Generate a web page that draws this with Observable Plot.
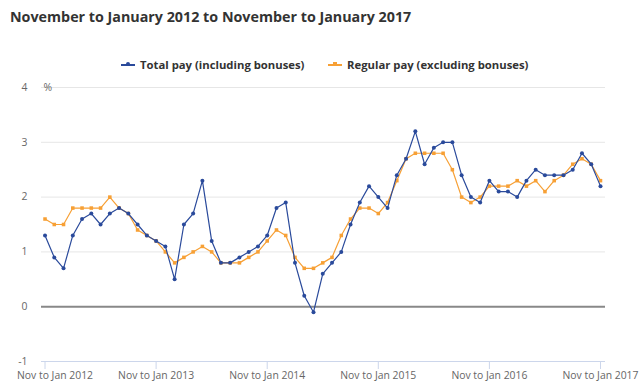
<!DOCTYPE html>
<html><head><meta charset="utf-8">
<script src="https://cdn.jsdelivr.net/npm/d3@7"></script>
<script src="https://cdn.jsdelivr.net/npm/@observablehq/plot@0.6"></script>
<style>
body{margin:0;background:#fff;font-family:"Open Sans",sans-serif;}
#wrap{position:relative;width:643px;height:392px;overflow:hidden;}
#chart{position:absolute;left:0;top:0;}
#title{position:absolute;left:10px;top:7px;font-size:14.3px;font-weight:bold;color:#333;white-space:nowrap;}
.leg{position:absolute;top:57px;font-size:11.3px;font-weight:bold;color:#333;white-space:nowrap;display:flex;align-items:center;}
.sym{position:relative;width:14px;height:2px;margin-right:5px;}
.sym i{position:absolute;left:5px;top:-1.5px;width:4px;height:4px;}
</style></head>
<body>
<div id="wrap">
  <div id="chart"></div>
  <div id="title">November to January 2012 to November to January 2017</div>
  <div class="leg" style="left:121px"><span class="sym" style="background:#2a4a9b"><i style="background:#2a4a9b;border-radius:50%"></i></span>Total pay (including bonuses)</div>
  <div class="leg" style="left:328px"><span class="sym" style="background:#f7a035"><i style="background:#f7a035"></i></span>Regular pay (excluding bonuses)</div>
</div>
<script>
const tickIndex = [0, 12, 24, 36, 48, 60];
const tickLabels = ["Nov to Jan 2012", "Nov to Jan 2013", "Nov to Jan 2014", "Nov to Jan 2015", "Nov to Jan 2016", "Nov to Jan 2017"];
const yTicks = [-1, 0, 1, 2, 3, 4];
const totalPay = [1.3,0.9,0.7,1.3,1.6,1.7,1.5,1.7,1.8,1.7,1.5,1.3,1.2,1.1,0.5,1.5,
  1.7,2.3,1.2,0.8,0.8,0.9,1.0,1.1,1.3,1.8,1.9,0.8,0.2,-0.1,0.6,
  0.8,1.0,1.5,1.9,2.2,2.0,1.8,2.4,2.7,3.2,2.6,2.9,3.0,3.0,2.4,2.0,
  1.9,2.3,2.1,2.1,2.0,2.3,2.5,2.4,2.4,2.4,2.5,2.8,2.6,2.2];
const regularPay = [1.6,1.5,1.5,1.8,1.8,1.8,1.8,2.0,1.8,1.7,1.4,1.3,1.2,1.0,0.8,0.9,
  1.0,1.1,1.0,0.8,0.8,0.8,0.9,1.0,1.2,1.4,1.3,0.9,0.7,0.7,0.8,
  0.9,1.3,1.6,1.8,1.8,1.7,1.9,2.3,2.7,2.8,2.8,2.8,2.8,2.5,2.0,1.9,
  2.0,2.2,2.2,2.2,2.3,2.2,2.3,2.1,2.3,2.4,2.6,2.7,2.6,2.3];

const total = totalPay.map((v, i) => ({i, v}));
const regular = regularPay.map((v, i) => ({i, v}));
const blue = "#2a4a9b", orange = "#f7a035";
const lab = (d) => tickLabels[tickIndex.indexOf(d)];

const chart = Plot.plot({
  width: 643, height: 392,
  marginTop: 87, marginBottom: 31, marginLeft: 41, marginRight: 38,
  style: {fontFamily: "'Open Sans', sans-serif", fontSize: "10.4px", background: "transparent"},
  x: {domain: [-0.38, 60.54]},
  y: {domain: [-1, 4]},
  marks: [
    Plot.ruleY([1, 2, 3, 4], {stroke: "#e6e6e6", strokeWidth: 1}),
    Plot.ruleY([-1], {stroke: "#ccd6eb", strokeWidth: 1}),
    Plot.ruleY([0], {stroke: "#888", strokeWidth: 2}),
    Plot.axisY({ticks: yTicks, tickFormat: (d) => String(d), tickSize: 0, tickPadding: 14, fill: "#666", label: null}),
    Plot.axisX({ticks: tickIndex, tickFormat: () => "", tickSize: 8, stroke: "#ccd6eb", label: null}),
    Plot.axisX({ticks: [0], tickFormat: lab, tickSize: 0, tickPadding: 10, dx: 10, fill: "#666", label: null}),
    Plot.axisX({ticks: tickIndex.slice(1), tickFormat: lab, tickSize: 0, tickPadding: 10, fill: "#666", label: null}),
    Plot.text(["%"], {frameAnchor: "top-left", dx: 2, dy: -4, fill: "#666", fontSize: 10.4}),
    Plot.line(regular, {x: "i", y: "v", stroke: orange, strokeWidth: 1.2}),
    Plot.dot(regular, {x: "i", y: "v", symbol: "square", r: 2, fill: orange}),
    Plot.line(total, {x: "i", y: "v", stroke: blue, strokeWidth: 1.2}),
    Plot.dot(total, {x: "i", y: "v", r: 2, fill: blue})
  ]
});
document.getElementById("chart").appendChild(chart);
</script>
</body></html>
